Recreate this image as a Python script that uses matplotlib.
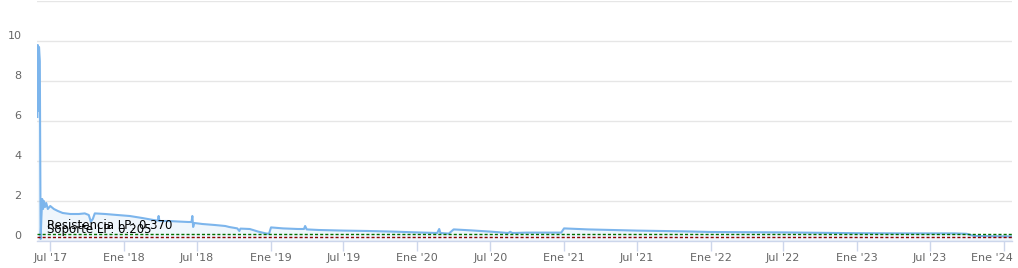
import matplotlib
matplotlib.use("Agg")
import matplotlib.pyplot as plt
import matplotlib.transforms as mtransforms
import pandas as pd

dates = ["2017-05-30", "2017-05-31", "2017-06-01", "2017-06-02", "2017-06-03", "2017-06-05",
         "2017-06-07", "2017-06-09", "2017-06-11", "2017-06-13", "2017-06-15", "2017-06-18",
         "2017-06-21", "2017-06-25", "2017-07-01", "2017-07-10", "2017-07-20", "2017-08-01",
         "2017-08-20", "2017-09-10", "2017-09-25", "2017-10-05", "2017-10-10", "2017-10-15",
         "2017-10-20", "2017-11-15", "2017-12-15", "2018-01-15", "2018-02-15", "2018-03-15",
         "2018-03-26", "2018-03-28", "2018-03-30", "2018-04-20", "2018-05-20", "2018-06-10",
         "2018-06-18", "2018-06-20", "2018-06-22", "2018-06-25", "2018-07-15", "2018-08-15",
         "2018-09-10", "2018-09-20", "2018-10-10", "2018-10-15", "2018-10-18", "2018-11-10",
         "2018-12-01", "2018-12-20", "2018-12-28", "2019-01-02", "2019-02-01", "2019-03-10",
         "2019-03-25", "2019-03-28", "2019-04-01", "2019-05-01", "2019-07-01", "2019-09-01",
         "2019-11-01", "2020-01-01", "2020-02-20", "2020-02-25", "2020-02-28", "2020-03-20",
         "2020-04-01", "2020-05-15", "2020-07-01", "2020-08-15", "2020-08-20", "2020-08-25",
         "2020-10-01", "2020-12-25", "2021-01-01", "2021-03-01", "2021-05-01", "2021-07-01",
         "2021-09-01", "2021-11-01", "2022-01-01", "2022-04-01", "2022-07-01", "2022-10-01",
         "2023-01-01", "2023-05-01", "2023-09-01", "2023-10-01", "2023-10-20", "2023-12-01",
         "2024-01-22"]
values = [6.2, 9.8, 9.6, 6.5, 9.7, 9.0,
          0.1, 1.2, 2.1, 1.6, 2.0, 1.7,
          1.9, 1.6, 1.75, 1.6, 1.5, 1.4,
          1.35, 1.35, 1.38, 1.3, 0.97, 1.1,
          1.38, 1.35, 1.3, 1.25, 1.15, 1.05,
          1.02, 1.25, 1.0, 1.0, 0.97, 0.95,
          0.95, 1.25, 0.7, 0.9, 0.85, 0.8,
          0.75, 0.7, 0.63, 0.5, 0.62, 0.6,
          0.47, 0.38, 0.36, 0.68, 0.63, 0.6,
          0.6, 0.75, 0.58, 0.55, 0.52, 0.5,
          0.47, 0.43, 0.4, 0.6, 0.4, 0.37,
          0.58, 0.53, 0.47, 0.4, 0.46, 0.4,
          0.42, 0.42, 0.63, 0.58, 0.55, 0.52,
          0.5, 0.48, 0.45, 0.44, 0.43, 0.41,
          0.39, 0.38, 0.38, 0.36, 0.25, 0.24,
          0.23]

resistencia = 0.370
soporte = 0.205
res_label = "Resistencia LP: 0.370"
sop_label = "Soporte LP: 0.205"

tick_dates = ["2017-07-01", "2018-01-01", "2018-07-01", "2019-01-01", "2019-07-01",
              "2020-01-01", "2020-07-01", "2021-01-01", "2021-07-01", "2022-01-01",
              "2022-07-01", "2023-01-01", "2023-07-01", "2024-01-01"]
tick_labels = ["Jul '17", "Ene '18", "Jul '18", "Ene '19", "Jul '19", "Ene '20", "Jul '20",
               "Ene '21", "Jul '21", "Ene '22", "Jul '22", "Ene '23", "Jul '23", "Ene '24"]
y_ticks = [0, 2, 4, 6, 8, 10, 12]
y_labels = ["0", "2", "4", "6", "8", "10", ""]

x = pd.to_datetime(dates)
xt = pd.to_datetime(tick_dates)

fig = plt.figure(figsize=(10.18, 2.68), dpi=100)
ax = fig.add_axes([37/1018, 27/268, (1012-37)/1018, 240/268])

line_color = "#7cb5ec"
ax.fill_between(x, values, 0, color=line_color, alpha=0.12, linewidth=0, zorder=2)
ax.plot(x, values, color=line_color, linewidth=1.5, zorder=3, solid_joinstyle="round")

dash = (0, (2.2, 1.5))
ax.axhline(resistencia, color="#007000", linestyle=dash, linewidth=1.0, zorder=4)
ax.axhline(soporte, color="#8b0000", linestyle=dash, linewidth=1.0, zorder=4)
ax.annotate(res_label, xy=(0, resistencia), xycoords=("axes fraction", "data"),
            xytext=(7.5, 3), textcoords="offset points", fontsize=8.5, color="#000000",
            va="baseline", ha="left", zorder=5)
ax.annotate(sop_label, xy=(0, soporte), xycoords=("axes fraction", "data"),
            xytext=(7.5, 3), textcoords="offset points", fontsize=8.5, color="#000000",
            va="baseline", ha="left", zorder=5)

ax.set_xlim(pd.Timestamp("2017-05-29"), pd.Timestamp("2024-01-22"))
ax.set_ylim(0, 12)
ax.set_yticks(y_ticks)
ax.set_yticklabels(y_labels)
ax.set_xticks(xt)
ax.set_xticklabels(tick_labels)

ax.grid(axis="y", color="#e6e6e6", linewidth=1.0, zorder=0)
ax.set_axisbelow(True)
for s in ["top", "right", "left"]:
    ax.spines[s].set_visible(False)
ax.spines["bottom"].set_color("#ccd6eb")
ax.spines["bottom"].set_linewidth(1.0)
ax.spines["bottom"].set_zorder(6)

ax.tick_params(axis="y", length=0, pad=11, labelsize=8, labelcolor="#666666")
ax.tick_params(axis="x", length=7, width=1, color="#ccd6eb", pad=1.5,
               labelsize=8, labelcolor="#666666")
for lbl in ax.get_yticklabels():
    lbl.set_verticalalignment("bottom")

# shift last x label left so it stays inside the figure (as in the reference)
last = ax.get_xticklabels()[-1]
last.set_transform(last.get_transform() +
                   mtransforms.ScaledTranslation(-12/100, 0, fig.dpi_scale_trans))

fig.savefig("out.png", dpi=100)
